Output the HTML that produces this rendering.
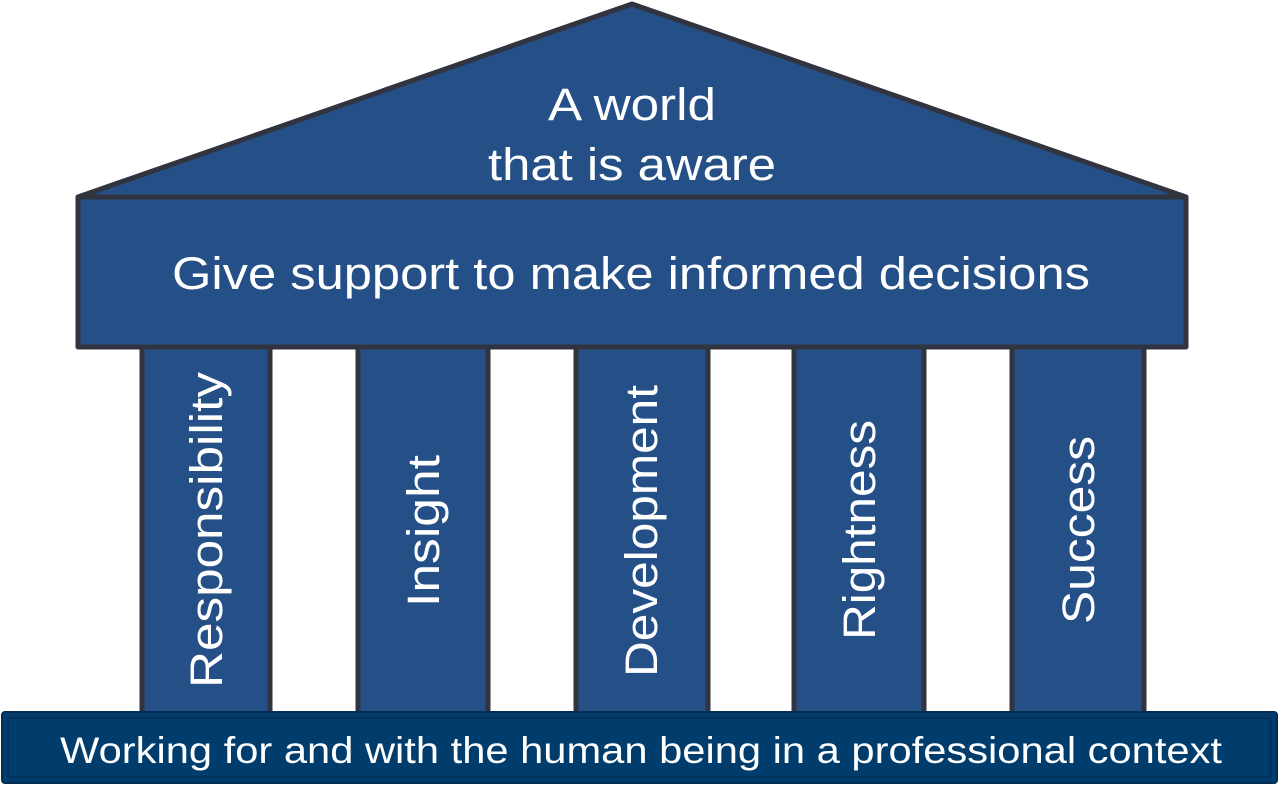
<!DOCTYPE html>
<html><head><meta charset="utf-8"><style>html,body{margin:0;padding:0;background:#fff}svg{display:block}</style></head>
<body>
<svg width="1279" height="797" viewBox="0 0 1279 797" xmlns="http://www.w3.org/2000/svg" font-family="Liberation Sans, sans-serif" fill="#fff">
<g fill="#245087" stroke="#31343f" stroke-width="5" stroke-linejoin="round">
<polygon points="78,197 632,4 1186,197"/>
<rect x="78" y="197" width="1108" height="150"/>
<rect x="142" y="347" width="128" height="367"/>
<rect x="358" y="347" width="130" height="367"/>
<rect x="576" y="347" width="132" height="367"/>
<rect x="794" y="347" width="130" height="367"/>
<rect x="1012" y="347" width="132" height="367"/>
</g>
<rect x="2" y="712" width="1275" height="71" rx="3" fill="#013d6c" stroke="#012e55" stroke-width="2"/>
<rect x="8" y="718" width="1263" height="59" fill="none" stroke="#022f57" stroke-width="1.5"/>
<g fill="#fff" font-size="45" text-anchor="middle" lengthAdjust="spacingAndGlyphs">
<text x="632" y="120" textLength="168" lengthAdjust="spacingAndGlyphs">A world</text>
<text x="632" y="180" textLength="288" lengthAdjust="spacingAndGlyphs">that is aware</text>
<text x="631" y="289" textLength="918" lengthAdjust="spacingAndGlyphs">Give support to make informed decisions</text>
<text transform="translate(222,530) rotate(-90)" textLength="316" lengthAdjust="spacingAndGlyphs">Responsibility</text>
<text transform="translate(439,531) rotate(-90)" textLength="152" lengthAdjust="spacingAndGlyphs">Insight</text>
<text transform="translate(657,531) rotate(-90)" textLength="292" lengthAdjust="spacingAndGlyphs">Development</text>
<text transform="translate(875,530) rotate(-90)" textLength="220" lengthAdjust="spacingAndGlyphs">Rightness</text>
<text transform="translate(1094,530) rotate(-90)" textLength="188" lengthAdjust="spacingAndGlyphs">Success</text>
<text x="641" y="763" font-size="37" textLength="1162" lengthAdjust="spacingAndGlyphs">Working for and with the human being in a professional context</text>
</g>
</svg>
</body></html>
